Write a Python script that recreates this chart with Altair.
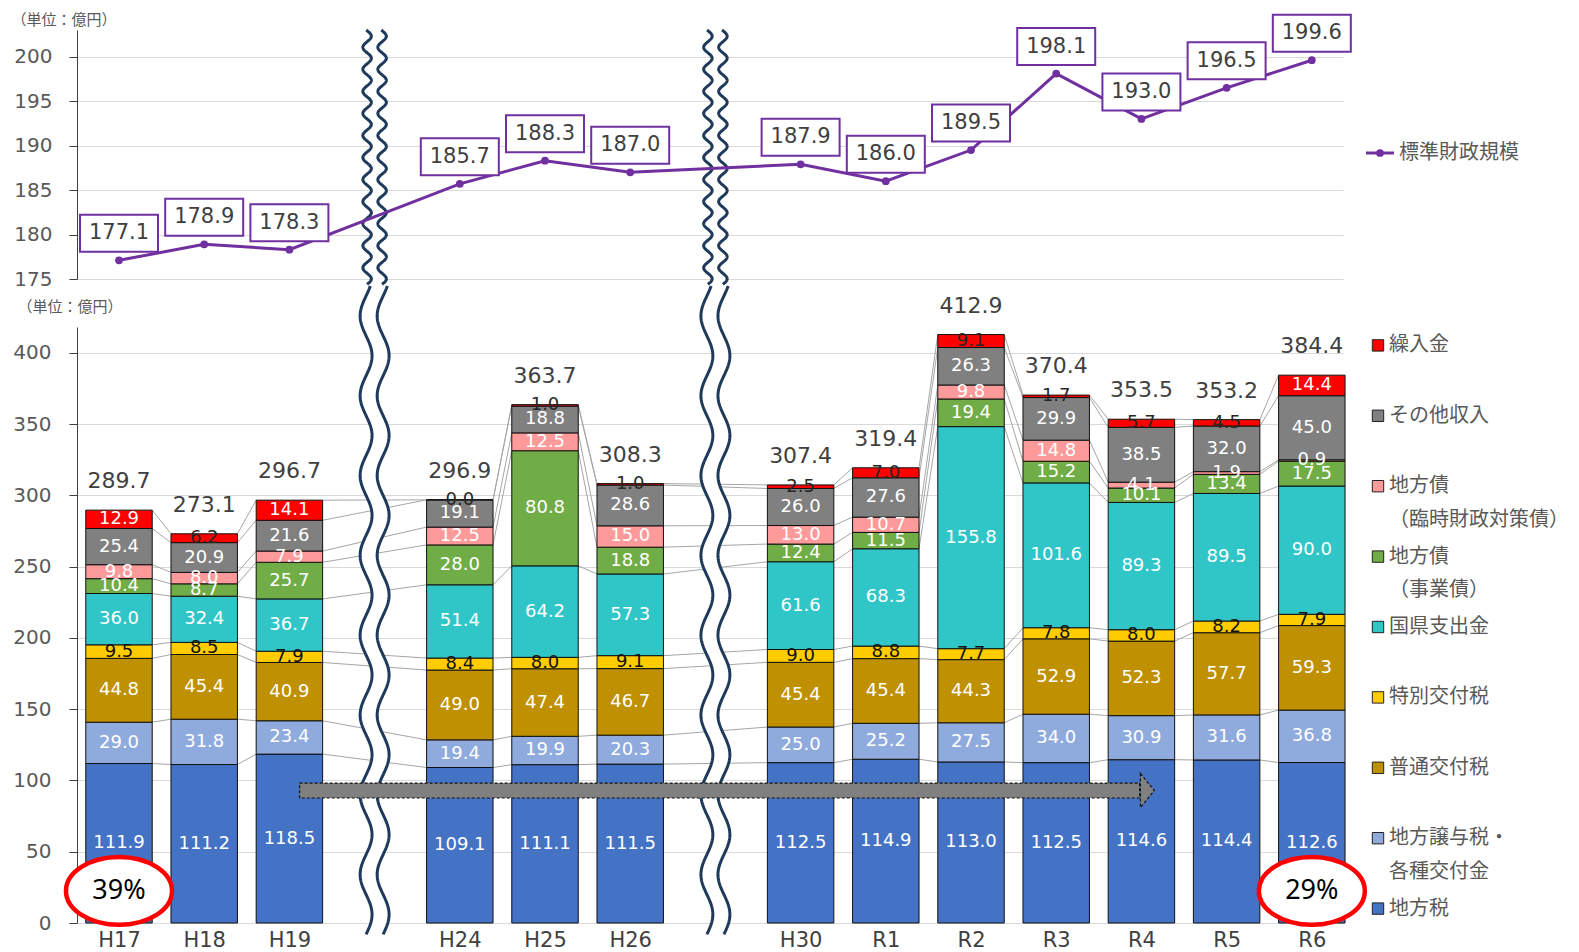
import altair as alt
import pandas as pd
import numpy as np

# ---------------- data ----------------
categories = ["H17", "H18", "H19", "H24", "H25", "H26", "H30", "R1", "R2", "R3", "R4", "R5", "R6"]
breaks_after = ["H19", "H26"]

chihouzei = [111.9, 111.2, 118.5, 109.1, 111.1, 111.5, 112.5, 114.9, 113.0, 112.5, 114.6, 114.4, 112.6]
jouyozei = [29.0, 31.8, 23.4, 19.4, 19.9, 20.3, 25.0, 25.2, 27.5, 34.0, 30.9, 31.6, 36.8]
futsuu_koufuzei = [44.8, 45.4, 40.9, 49.0, 47.4, 46.7, 45.4, 45.4, 44.3, 52.9, 52.3, 57.7, 59.3]
tokubetsu_koufuzei = [9.5, 8.5, 7.9, 8.4, 8.0, 9.1, 9.0, 8.8, 7.7, 7.8, 8.0, 8.2, 7.9]
kokuken_shishutsukin = [36.0, 32.4, 36.7, 51.4, 64.2, 57.3, 61.6, 68.3, 155.8, 101.6, 89.3, 89.5, 90.0]
chihousai_jigyou = [10.4, 8.7, 25.7, 28.0, 80.8, 18.8, 12.4, 11.5, 19.4, 15.2, 10.1, 13.4, 17.5]
chihousai_rinzai = [9.8, 8.0, 7.9, 12.5, 12.5, 15.0, 13.0, 10.7, 9.8, 14.8, 4.1, 1.9, 0.9]
sonota = [25.4, 20.9, 21.6, 19.1, 18.8, 28.6, 26.0, 27.6, 26.3, 29.9, 38.5, 32.0, 45.0]
kurinyuukin = [12.9, 6.2, 14.1, 0.0, 1.0, 1.0, 2.5, 7.0, 9.1, 1.7, 5.7, 4.5, 14.4]
totals = [289.7, 273.1, 296.7, 296.9, 363.7, 308.3, 307.4, 319.4, 412.9, 370.4, 353.5, 353.2, 384.4]
hyoujun_zaisei_kibo = [177.1, 178.9, 178.3, 185.7, 188.3, 187.0, 187.9, 186.0, 189.5, 198.1, 193.0, 196.5, 199.6]

# series bottom -> top : (name, values, fill colour)
series = [
    ("地方税", chihouzei, "#4472C4"),
    ("地方譲与税・|各種交付金", jouyozei, "#8FAADC"),
    ("普通交付税", futsuu_koufuzei, "#BF9000"),
    ("特別交付税", tokubetsu_koufuzei, "#FFCC00"),
    ("国県支出金", kokuken_shishutsukin, "#30C6C8"),
    ("地方債|（事業債）", chihousai_jigyou, "#70AD47"),
    ("地方債|（臨時財政対策債）", chihousai_rinzai, "#FF9A9A"),
    ("その他収入", sonota, "#808080"),
    ("繰入金", kurinyuukin, "#FF0000"),
]
series_names = [s[0] for s in series]
series_colors = [s[2] for s in series]

# ---------------- derived tables ----------------
slots = []
s = 0
for c in categories:
    slots.append(s)
    s += 2 if c in breaks_after else 1
break_slots = [slots[categories.index(c)] + 1 for c in breaks_after]

HW = 0.39  # half bar width in slot units
n = len(categories)

bar_rows = []
cum = []
for i in range(n):
    acc = [0.0]
    for name, vals, col in series:
        v = vals[i]
        y0 = acc[-1]
        y1 = y0 + v
        acc.append(y1)
        if name == "特別交付税":
            tcol = "#111111"
        elif name == "繰入金":
            tcol = "#FFFFFF" if v >= 10 else "#262626"
        else:
            tcol = "#FFFFFF"
        bar_rows.append(dict(cat=categories[i], slot=slots[i], xa=slots[i] - HW, xb=slots[i] + HW,
                             series=name, value=v, y0=y0, y1=y1, mid=(y0 + y1) / 2, tcolor=tcol))
    cum.append(acc)
bars_df = pd.DataFrame(bar_rows)

conn_rows = []
for i in range(n - 1):
    for k in range(1, len(series) + 1):
        conn_rows.append(dict(xa=slots[i] + HW, xb=slots[i + 1] - HW, ya=cum[i][k], yb=cum[i + 1][k]))
conn_df = pd.DataFrame(conn_rows)

tot_df = pd.DataFrame({"slot": slots, "total": totals})
line_df = pd.DataFrame({"slot": slots, "v": hyoujun_zaisei_kibo})


def wave(center, y_lo, y_hi, period, amp, gap, step, wid):
    ys = np.arange(y_lo, y_hi + step / 2, step)
    off = amp * np.sin(2 * np.pi * (ys - y_lo) / period)
    return pd.DataFrame({"y": ys, "xl": center - gap / 2 + off, "xr": center + gap / 2 + off,
                         "idx": np.arange(len(ys)), "wid": wid})


wave_top = pd.concat([wave(b, 174.4, 203.0, 2.48, 0.05, 0.176, 0.05, str(j)) for j, b in enumerate(break_slots)])
wave_bot = pd.concat([wave(b, -8, 447, 56, 0.07, 0.2, 1.0, str(j)) for j, b in enumerate(break_slots)])

i0, i1 = 0, n - 1
pct_df = pd.DataFrame({
    "slot": [slots[i0], slots[i1]],
    "y": [22.5, 22.5],
    "text": [f"{round(chihouzei[i0] / totals[i0] * 100)}%", f"{round(chihouzei[i1] / totals[i1] * 100)}%"],
})
arrow_body = pd.DataFrame({"xa": [2.12], "xb": [11.98], "ya": [87.7], "yb": [98.2]})
arrow_head = pd.DataFrame({"x": [12.07], "y": [92.95]})

# ---------------- scales / axes ----------------
X_SCALE = alt.Scale(domain=[-0.493, 14.366], nice=False, zero=False)
YB_SCALE = alt.Scale(domain=[0, 418.2], nice=False, zero=False)
YT_SCALE = alt.Scale(domain=[175, 203], nice=False, zero=False)

label_arr = [""] * (max(slots) + 1)
for c, sl in zip(categories, slots):
    label_arr[sl] = c
label_expr = "[" + ",".join("'" + t + "'" for t in label_arr) + "][datum.value]"

XB_AXIS = alt.Axis(values=slots, labelExpr=label_expr, domain=False, ticks=False, grid=False,
                   labelFontSize=21, labelColor="#404040", labelFont="DejaVu Sans", labelPadding=6,
                   title=None)
YB_AXIS = alt.Axis(values=list(range(0, 401, 50)), grid=True, gridColor="#D9D9D9", domainColor="#404040",
                   tickColor="#404040", tickSize=8, labelPadding=18, labelFontSize=20, labelColor="#595959",
                   labelFont="DejaVu Sans", title="（単位：億円）", titleAngle=0, titleAlign="left",
                   titleBaseline="middle", titleX=-60, titleY=-21, titleFontSize=15,
                   titleColor="#595959", titleFontWeight="normal", titleFont="Noto Sans CJK JP")
YT_AXIS = alt.Axis(values=list(range(175, 201, 5)), grid=True, gridColor="#D9D9D9", domainColor="#404040",
                   tickColor="#404040", tickSize=8, labelPadding=17, labelFontSize=20, labelColor="#595959",
                   labelFont="DejaVu Sans", title="（単位：億円）", titleAngle=0, titleAlign="left",
                   titleBaseline="middle", titleX=-66, titleY=-11, titleFontSize=15,
                   titleColor="#595959", titleFontWeight="normal", titleFont="Noto Sans CJK JP")


def bx(f):
    return alt.X(f, type="quantitative", scale=X_SCALE, axis=XB_AXIS)


def by(f):
    return alt.Y(f, type="quantitative", scale=YB_SCALE, axis=YB_AXIS)


def tx(f):
    return alt.X(f, type="quantitative", scale=X_SCALE, axis=None)


def ty(f):
    return alt.Y(f, type="quantitative", scale=YT_SCALE, axis=YT_AXIS)


WAVE_COLOR = "#1F3A5A"
PURPLE = "#7030A0"

# ---------------- bottom panel ----------------
conn = alt.Chart(conn_df).mark_rule(color="#A6A6A6", strokeWidth=1).encode(
    x=bx("xa"), x2=alt.X2("xb"), y=by("ya"), y2=alt.Y2("yb"))
wb_area = alt.Chart(wave_bot).mark_area(orient="horizontal", color="white", opacity=1).encode(
    y=by("y"), x=bx("xl"), x2=alt.X2("xr"), detail="wid:N")
wb_l = alt.Chart(wave_bot).mark_line(color=WAVE_COLOR, strokeWidth=3).encode(
    x=bx("xl"), y=by("y"), order="idx:Q", detail="wid:N")
wb_r = alt.Chart(wave_bot).mark_line(color=WAVE_COLOR, strokeWidth=3).encode(
    x=bx("xr"), y=by("y"), order="idx:Q", detail="wid:N")
bars = alt.Chart(bars_df).mark_rect(stroke="#111111", strokeWidth=1).encode(
    x=bx("xa"), x2=alt.X2("xb"), y=by("y0"), y2=alt.Y2("y1"),
    color=alt.Color("series:N", scale=alt.Scale(domain=series_names, range=series_colors), legend=None))
bar_text = alt.Chart(bars_df).mark_text(font="DejaVu Sans", fontSize=18, baseline="middle").encode(
    x=bx("slot"), y=by("mid"), text=alt.Text("value:Q", format=".1f"),
    color=alt.Color("tcolor:N", scale=None))
tot_text = alt.Chart(tot_df).mark_text(font="DejaVu Sans", fontSize=22, baseline="middle", dy=-29,
                                       color="#404040").encode(
    x=bx("slot"), y=by("total"), text=alt.Text("total:Q", format=".1f"))
arr_b = alt.Chart(arrow_body).mark_rect(color="#808080", stroke="#111111", strokeWidth=1.2,
                                        strokeDash=[3, 2]).encode(
    x=bx("xa"), x2=alt.X2("xb"), y=by("ya"), y2=alt.Y2("yb"))
arr_h = alt.Chart(arrow_head).mark_point(shape="M-0.41,-1L0.41,0L-0.41,1Z", size=1156, filled=True,
                                         fill="#808080", stroke="#111111", strokeWidth=1.2,
                                         strokeDash=[3, 2], opacity=1).encode(
    x=bx("x"), y=by("y"))
ell = alt.Chart(pct_df).mark_point(shape="M-1,0A1,0.64,0,1,0,1,0A1,0.64,0,1,0,-1,0Z", size=11236,
                                   filled=True, fill="white", stroke="#FF0000", strokeWidth=4.5,
                                   opacity=1).encode(x=bx("slot"), y=by("y"))
pct = alt.Chart(pct_df).mark_text(font="Noto Sans", fontSize=27, color="#000000", baseline="middle").encode(
    x=bx("slot"), y=by("y"), text="text:N")

bottom = alt.layer(conn, wb_area, wb_l, wb_r, bars, bar_text, tot_text, arr_b, arr_h, ell, pct).properties(
    width=1266, height=596)

# ---------------- top panel ----------------
wt_area = alt.Chart(wave_top).mark_area(orient="horizontal", color="white", opacity=1).encode(
    y=ty("y"), x=tx("xl"), x2=alt.X2("xr"), detail="wid:N")
wt_l = alt.Chart(wave_top).mark_line(color=WAVE_COLOR, strokeWidth=3).encode(
    x=tx("xl"), y=ty("y"), order="idx:Q", detail="wid:N")
wt_r = alt.Chart(wave_top).mark_line(color=WAVE_COLOR, strokeWidth=3).encode(
    x=tx("xr"), y=ty("y"), order="idx:Q", detail="wid:N")
tline = alt.Chart(line_df).mark_line(color=PURPLE, strokeWidth=3).encode(x=tx("slot"), y=ty("v"))
tpts = alt.Chart(line_df).mark_point(color=PURPLE, filled=True, size=60, opacity=1).encode(
    x=tx("slot"), y=ty("v"))
tbox = alt.Chart(line_df).mark_point(shape="M-1,-0.474H1V0.474H-1Z", size=6084, filled=True, fill="white",
                                     stroke=PURPLE, strokeWidth=2, opacity=1, yOffset=-27).encode(
    x=tx("slot"), y=ty("v"))
ttext = alt.Chart(line_df).mark_text(font="DejaVu Sans", fontSize=21, color="#404040", baseline="middle",
                                     dy=-27).encode(
    x=tx("slot"), y=ty("v"), text=alt.Text("v:Q", format=".1f"))

top = alt.layer(wt_area, wt_l, wt_r, tline, tpts, tbox, ttext).properties(width=1266, height=249)

# ---------------- legends ----------------
leg_top_df = pd.DataFrame({"name": ["標準財政規模"]})
lt_rule = alt.Chart(leg_top_df).mark_rule(color=PURPLE, strokeWidth=3).encode(
    x=alt.value(13), x2=alt.value(41), y=alt.value(123))
lt_pt = alt.Chart(leg_top_df).mark_point(color=PURPLE, filled=True, size=60, opacity=1).encode(
    x=alt.value(27), y=alt.value(123))
lt_txt = alt.Chart(leg_top_df).mark_text(font="Noto Sans CJK JP", fontSize=20, color="#595959",
                                         align="left", baseline="middle").encode(
    x=alt.value(46), y=alt.value(123), text="name:N")
top_leg = alt.layer(lt_rule, lt_pt, lt_txt).properties(width=215, height=249)

legend_order = list(reversed(series_names))
leg_df = pd.DataFrame({
    "key": legend_order,
    "l1": [k.split("|")[0] for k in legend_order],
    "l2": [k.split("|")[1] if "|" in k else "" for k in legend_order],
})
LY = alt.Y("key:N", scale=alt.Scale(type="point", domain=legend_order, range=[18.4, 581.6], padding=0),
           axis=None)
lg_sq = alt.Chart(leg_df).mark_square(size=130, stroke="#222222", strokeWidth=1, opacity=1).encode(
    x=alt.value(25), y=LY,
    color=alt.Color("key:N", scale=alt.Scale(domain=series_names, range=series_colors), legend=None))
lg_t1 = alt.Chart(leg_df).mark_text(font="Noto Sans CJK JP", fontSize=20, color="#595959", align="left",
                                    baseline="middle").encode(x=alt.value(36), y=LY, text="l1:N")
lg_t2 = alt.Chart(leg_df).mark_text(font="Noto Sans CJK JP", fontSize=20, color="#595959", align="left",
                                    baseline="middle", dy=33.5).encode(x=alt.value(36), y=LY, text="l2:N")
bot_leg = alt.layer(lg_sq, lg_t1, lg_t2).properties(width=215, height=596)

chart = alt.concat(
    top, top_leg, bottom, bot_leg,
    columns=2, spacing=alt.RowColnumber(row=48, column=10), bounds="flush",
).properties(
    padding={"left": 3, "top": 2, "right": 0, "bottom": 0},
    background="white",
).configure_view(strokeWidth=0)

chart.save("out.html", embed_options={"renderer": "svg", "actions": False})
